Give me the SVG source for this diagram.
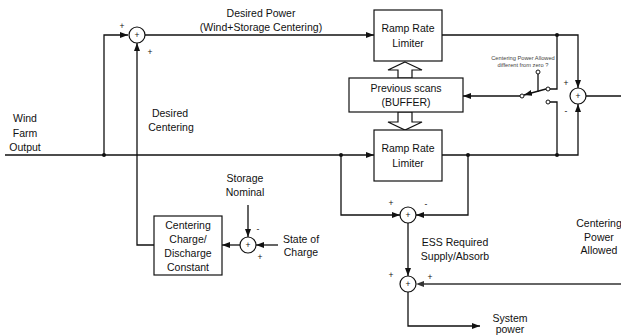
<svg xmlns="http://www.w3.org/2000/svg" width="621" height="335" viewBox="0 0 621 335">
<style>
text{font-family:"Liberation Sans",Arial,sans-serif;font-size:10.5px;fill:#111;text-anchor:middle}
.s{font-size:8.5px}
.t{font-size:5.7px;fill:#444}
.box{fill:#fff;stroke:#111;stroke-width:1.2}
.sum{fill:#fff;stroke:#111;stroke-width:1.2}
.ln{fill:none;stroke:#111;stroke-width:1.3}
.ar{marker-end:url(#a)}
.gr{fill:none;stroke:#666;stroke-width:2}
.dot{fill:#111}
.term{fill:#fff;stroke:#111;stroke-width:1}
</style>
<defs>
<marker id="a" markerUnits="userSpaceOnUse" markerWidth="9" markerHeight="7" refX="8" refY="3" orient="auto">
<path d="M0,0 L8,3 L0,6 z" fill="#111"/>
</marker>
</defs>
<g id="connectors">
<path class="ln ar" d="M5,155 H374"/>
<path class="ln ar" d="M104,155 V35 H128"/>
<path class="ln ar" d="M154,245 H137 V43"/>
<path class="ln ar" d="M145,35 H374"/>
<path class="ln ar" d="M442,35 H578 V88"/>
<path class="ln ar" d="M442,155 H578 V104"/>
<path class="ln" d="M586,96 H621"/>
<path class="ln" d="M557,35 V89 H550"/>
<path class="ln" d="M550,102 H557 V155"/>
<path class="ln ar" d="M546,89 L524,95"/>
<path class="ln" d="M538,74 V92"/>
<path class="ln ar" d="M520,96 H463"/>
<path class="ln ar" d="M341,155 V215 H400"/>
<path class="ln ar" d="M468,155 V215 H416"/>
<path class="ln ar" d="M408,223 V276"/>
<path class="gr" d="M621,284 H424"/>
<path d="M424,281 L416,284 L424,287 z" fill="#333"/>
<path class="ln ar" d="M408,292 V326 H480"/>
<path class="ln ar" d="M248,205 V237"/>
<path class="ln ar" d="M278,245 H256"/>
<path class="ln ar" d="M240,245 H222"/>
<polygon class="box" points="405,62 422,70 412,70 412,78 398,78 398,70 388,70"/>
<polygon class="box" points="398,112 412,112 412,122 422,122 405,130 388,122 398,122"/>
<circle class="dot" cx="104" cy="155" r="2"/>
<circle class="dot" cx="341" cy="155" r="2"/>
<circle class="dot" cx="468" cy="155" r="2"/>
<circle class="dot" cx="557" cy="155" r="2"/>
<circle class="dot" cx="557" cy="35" r="2"/>
</g>
<g id="switch">
<circle class="term" cx="548" cy="89" r="2"/>
<circle class="term" cx="548" cy="102" r="2"/>
<circle class="term" cx="522" cy="96" r="2"/>
<circle class="term" cx="538" cy="72" r="2"/>
<text class="t" x="523" y="60">Centering Power Allowed</text>
<text class="t" x="523" y="67">different from zero ?</text>
</g>
<g id="wind-label">
<text x="25" y="122">Wind</text>
<text x="25" y="137">Farm</text>
<text x="25" y="151">Output</text>
</g>
<g id="desired-centering-label">
<text x="170" y="117">Desired</text>
<text x="171" y="131">Centering</text>
</g>
<g id="desired-power-label">
<text x="261" y="17">Desired Power</text>
<text x="261" y="31">(Wind+Storage Centering)</text>
</g>
<g id="sum-top">
<circle class="sum" cx="137" cy="35" r="8"/>
<text class="s" x="137" y="38">+</text>
<text class="s" x="122" y="29">+</text>
<text class="s" x="150" y="55">+</text>
</g>
<g id="ramp-top">
<rect class="box" x="374" y="10" width="68" height="51"/>
<text x="408" y="32">Ramp Rate</text>
<text x="408" y="47">Limiter</text>
</g>
<g id="buffer">
<rect class="box" x="349" y="78" width="114" height="34"/>
<text x="406" y="92">Previous scans</text>
<text x="406" y="106">(BUFFER)</text>
</g>
<g id="ramp-bottom">
<rect class="box" x="374" y="130" width="68" height="51"/>
<text x="408" y="152">Ramp Rate</text>
<text x="408" y="167">Limiter</text>
</g>
<g id="sum-right">
<circle class="sum" cx="578" cy="96" r="8"/>
<text class="s" x="578" y="99">+</text>
<text class="s" x="566" y="86">+</text>
<text class="s" x="566" y="114">-</text>
</g>
<g id="sum-ess">
<circle class="sum" cx="408" cy="215" r="8"/>
<text class="s" x="408" y="218">+</text>
<text class="s" x="391" y="206">+</text>
<text class="s" x="426" y="207">-</text>
</g>
<g id="ess-label">
<text x="455" y="246">ESS Required</text>
<text x="455" y="260">Supply/Absorb</text>
</g>
<g id="sum-system">
<circle class="sum" cx="408" cy="284" r="8"/>
<text class="s" x="408" y="287">+</text>
<text class="s" x="391" y="278">+</text>
<text class="s" x="430" y="280">+</text>
</g>
<g id="system-power">
<text x="510" y="322">System</text>
<text x="510" y="333">power</text>
</g>
<g id="centering-allowed-label">
<text x="599" y="227">Centering</text>
<text x="599" y="241">Power</text>
<text x="599" y="254">Allowed</text>
</g>
<g id="centering-constant">
<rect class="box" x="154" y="216" width="68" height="59"/>
<text x="188" y="229">Centering</text>
<text x="188" y="243">Charge/</text>
<text x="188" y="257">Discharge</text>
<text x="188" y="271">Constant</text>
</g>
<g id="sum-storage">
<circle class="sum" cx="248" cy="245" r="8"/>
<text class="s" x="248" y="248">+</text>
<text class="s" x="258" y="232">-</text>
<text class="s" x="260" y="260">+</text>
</g>
<g id="storage-nominal">
<text x="245" y="182">Storage</text>
<text x="245" y="196">Nominal</text>
</g>
<g id="state-of-charge">
<text x="301" y="243">State of</text>
<text x="301" y="256">Charge</text>
</g>
</svg>
